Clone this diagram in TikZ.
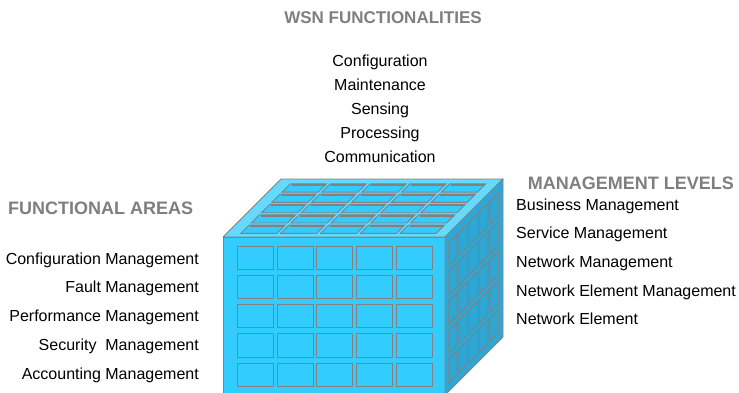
\documentclass[tikz,border=0pt]{standalone}
\usepackage{fontspec}
\setmainfont{Liberation Sans}
\definecolor{frontc}{HTML}{33CCFF}
\definecolor{topc}{HTML}{66D9FF}
\definecolor{sidec}{HTML}{2CA8D6}
\definecolor{winline}{HTML}{857F80}
\definecolor{titlec}{HTML}{7F7F7F}
\tikzset{
  title/.style={inner sep=0pt, anchor=base, font=\fontsize{18}{20}\selectfont\bfseries, text=titlec},
  body/.style={inner sep=0pt, anchor=base, font=\fontsize{16}{18}\selectfont, text=black},
  face/.style={draw=winline, line width=0.9pt, line join=round},
  win/.style={draw=winline, line width=0.9pt}
}
\begin{document}
\begin{tikzpicture}[x=1pt,y=-1pt]
\useasboundingbox (0,0) rectangle (739,392);
\fill[white] (0,0) rectangle (739,392);
\begin{scope}
\clip (0,0) rectangle (739,392);
% cube corners
\coordinate (fl) at (223,237);
\coordinate (fr) at (445,237);
\coordinate (bl) at (281,179);
\coordinate (br) at (503,179);
\coordinate (frb) at (445,395);
\coordinate (flb) at (223,395);
\coordinate (brb) at (503,337);
% faces
\filldraw[face, fill=frontc] (fl) -- (fr) -- (frb) -- (flb) -- cycle;
\filldraw[face, fill=topc] (fl) -- (bl) -- (br) -- (fr) -- cycle;
\filldraw[face, fill=sidec] (fr) -- (br) -- (brb) -- (frb) -- cycle;
% front windows
\foreach \i in {0,...,4}{
  \foreach \j in {0,...,4}{
    \draw[win, fill=frontc] ({237.3+39.8*\i},{246+29.3*\j}) rectangle ++(36,23.3);
  }
}
% top windows
\foreach \i in {0,...,4}{
  \foreach \k in {0,...,4}{
    \pgfmathsetmacro{\u}{14.3+39.8*\i}
    \pgfmathsetmacro{\w}{3.7+10.3*\k}
    \pgfmathsetmacro{\ww}{\w+8.3}
    \filldraw[win, fill=frontc] ({223+\u+\w},{237-\w}) -- ({223+\u+36+\w},{237-\w}) -- ({223+\u+36+\ww},{237-\ww}) -- ({223+\u+\ww},{237-\ww}) -- cycle;
    \draw[winline, line width=2pt] ({223+\u+36+\ww-1},{237-\ww+1}) -- ({223+\u+\ww+1},{237-\ww+1});
  }
}
% right windows
\foreach \k in {0,...,4}{
  \foreach \j in {0,...,4}{
    \pgfmathsetmacro{\w}{3.7+10.3*\k}
    \pgfmathsetmacro{\ww}{\w+8.3}
    \pgfmathsetmacro{\y}{246+29.3*\j}
    \filldraw[win, fill=sidec] ({445+\w},{\y-\w}) -- ({445+\ww},{\y-\ww}) -- ({445+\ww},{\y+23.3-\ww}) -- ({445+\w},{\y+23.3-\w}) -- cycle;
  }
}
\end{scope}
% titles
\node[title, font=\fontsize{17}{19}\selectfont\bfseries] (tw) at (383,23.5) {WSN FUNCTIONALITIES};
\node[title, anchor=base east] (tm) at (734,189.5) {MANAGEMENT LEVELS};
\node[title, anchor=base west] (tf) at (8,214.5) {FUNCTIONAL AREAS};
% centre list
\node[body] (c1) at (380,66) {Configuration};
\node[body] (c2) at (380,90.2) {Maintenance};
\node[body] (c3) at (380,114.4) {Sensing};
\node[body] (c4) at (380,138.6) {Processing};
\node[body] (c5) at (380,162.8) {Communication};
% left list
\node[body, anchor=base east] (l1) at (199,264) {Configuration Management};
\node[body, anchor=base east] (l2) at (199,292.8) {Fault Management};
\node[body, anchor=base east] (l3) at (199,321.6) {Performance Management\hspace{3pt}};
\node[body, anchor=base east] (l4) at (199,350.4) {Security~ Management};
\node[body, anchor=base east] (l5) at (199,379.2) {Accounting Management};
% right list
\node[body, anchor=base west] (r1) at (516,210) {Business Management};
\node[body, anchor=base west] (r2) at (516,238.7) {Service Management};
\node[body, anchor=base west] (r3) at (516,267.4) {Network Management};
\node[body, anchor=base west] (r4) at (516,296.1) {Network Element Management};
\node[body, anchor=base west] (r5) at (516,324.8) {Network Element};
\end{tikzpicture}
\end{document}
